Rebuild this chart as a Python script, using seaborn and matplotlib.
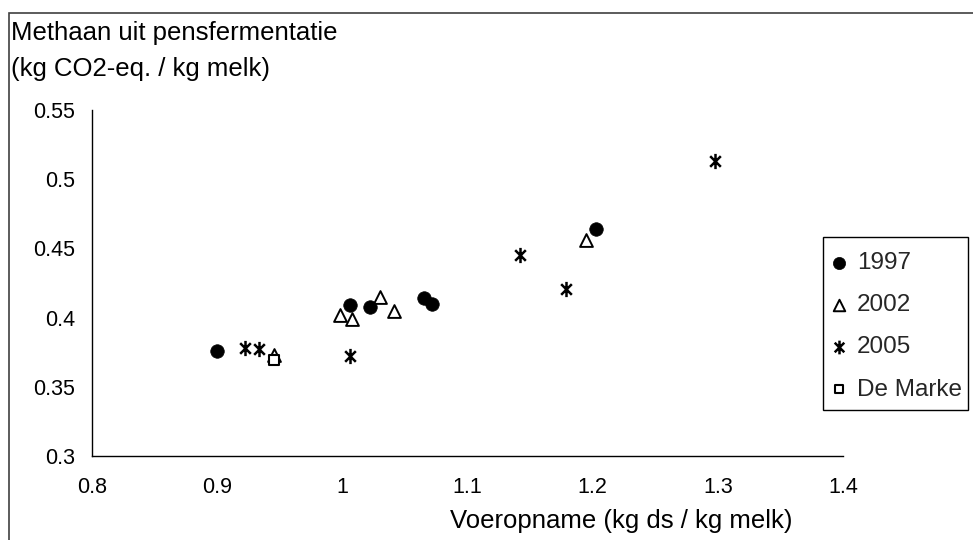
"""Methane from rumen fermentation versus feed intake, by survey year."""

import matplotlib.pyplot as plt
import pandas as pd
import seaborn as sns
from matplotlib.patches import Rectangle
from matplotlib.path import Path


X_1997 = [0.900, 1.006, 1.022, 1.065, 1.072, 1.203]
Y_1997 = [0.376, 0.409, 0.408, 0.414, 0.410, 0.464]
X_2002 = [0.945, 0.998, 1.008, 1.030, 1.041, 1.195]
Y_2002 = [0.373, 0.402, 0.399, 0.415, 0.405, 0.456]
X_2005 = [0.922, 0.933, 1.006, 1.142, 1.179, 1.298]
Y_2005 = [0.378, 0.377, 0.372, 0.445, 0.421, 0.513]
X_MARKE = [0.945]
Y_MARKE = [0.369]

X_TICKS = [0.8, 0.9, 1.0, 1.1, 1.2, 1.3, 1.4]
X_TICK_LABELS = ["0.8", "0.9", "1", "1.1", "1.2", "1.3", "1.4"]
Y_TICKS = [0.3, 0.35, 0.4, 0.45, 0.5, 0.55]
Y_TICK_LABELS = ["0.3", "0.35", "0.4", "0.45", "0.5", "0.55"]

# asterisk like the spreadsheet marker: a vertical bar crossed by an X
ASTERISK = Path(
    [(0, -1), (0, 1), (-0.7, -0.7), (0.7, 0.7), (-0.7, 0.7), (0.7, -0.7)],
    [Path.MOVETO, Path.LINETO, Path.MOVETO, Path.LINETO, Path.MOVETO, Path.LINETO],
)

GROUPS = [
    ("1997", X_1997, Y_1997, dict(marker="o", s=95, facecolor="black", edgecolor="black", linewidth=0.5)),
    ("2002", X_2002, Y_2002, dict(marker="^", s=85, facecolor="white", edgecolor="black", linewidth=1.4)),
    ("2005", X_2005, Y_2005, dict(marker=ASTERISK, s=120, facecolor="black", edgecolor="black", linewidth=1.8)),
    ("De Marke", X_MARKE, Y_MARKE, dict(marker="s", s=50, facecolor="white", edgecolor="black", linewidth=1.5)),
]


def main():
    sns.set_theme(style="white")
    plt.rcParams["font.family"] = ["Liberation Sans", "DejaVu Sans"]

    figure = plt.figure(figsize=(9.73, 5.4), dpi=100)
    ax = figure.add_axes([0.0946, 0.1556, 0.7718, 0.6407])

    for label, xs, ys, style in GROUPS:
        data = pd.DataFrame({"x": xs, "y": ys})
        sns.scatterplot(data=data, x="x", y="y", ax=ax, label=label, **style)

    ax.set_xlim(0.8, 1.4)
    ax.set_ylim(0.3, 0.55)
    ax.set_xticks(X_TICKS, X_TICK_LABELS)
    ax.set_yticks(Y_TICKS, Y_TICK_LABELS)
    ax.tick_params(axis="both", direction="out", length=4, width=1, color="black",
                   labelsize=15.5, labelcolor="black")
    ax.tick_params(axis="x", pad=11)
    ax.tick_params(axis="y", pad=8)
    ax.set_xlabel("")
    ax.set_ylabel("")
    for side in ["top", "right"]:
        ax.spines[side].set_visible(False)
    for side in ["left", "bottom"]:
        ax.spines[side].set_color("black")
        ax.spines[side].set_linewidth(1)

    # legend entries without frame; the box is drawn separately to match the reference
    ax.legend(
        loc="upper left",
        bbox_to_anchor=(828 / 973, 1 - 252 / 540),
        bbox_transform=figure.transFigure,
        fontsize=17.5,
        markerscale=0.9,
        frameon=False,
        handlelength=0.9,
        handletextpad=0.3,
        labelspacing=0.83,
        borderpad=0,
        borderaxespad=0,
    )
    figure.patches.append(Rectangle((823 / 973, 1 - 410 / 540), 145 / 973, 173 / 540,
                                    transform=figure.transFigure, fill=False,
                                    edgecolor="black", linewidth=1))

    figure.text(0.011, 0.939, "Methaan uit pensfermentatie", fontsize=18.5, color="black",
                ha="left", va="center")
    figure.text(0.011, 0.872, "(kg CO2-eq. / kg melk)", fontsize=18.5, color="black",
                ha="left", va="center")
    figure.text(0.639, 0.036, "Voeropname (kg ds / kg melk)", fontsize=18.5, color="black",
                ha="center", va="center")

    figure.patches.append(Rectangle((0.009, -0.05), 1.2, 1.026, transform=figure.transFigure,
                                    fill=False, edgecolor="#404040", linewidth=1.2))

    figure.savefig("out.png", dpi=100)
    plt.close(figure)


if __name__ == "__main__":
    main()
